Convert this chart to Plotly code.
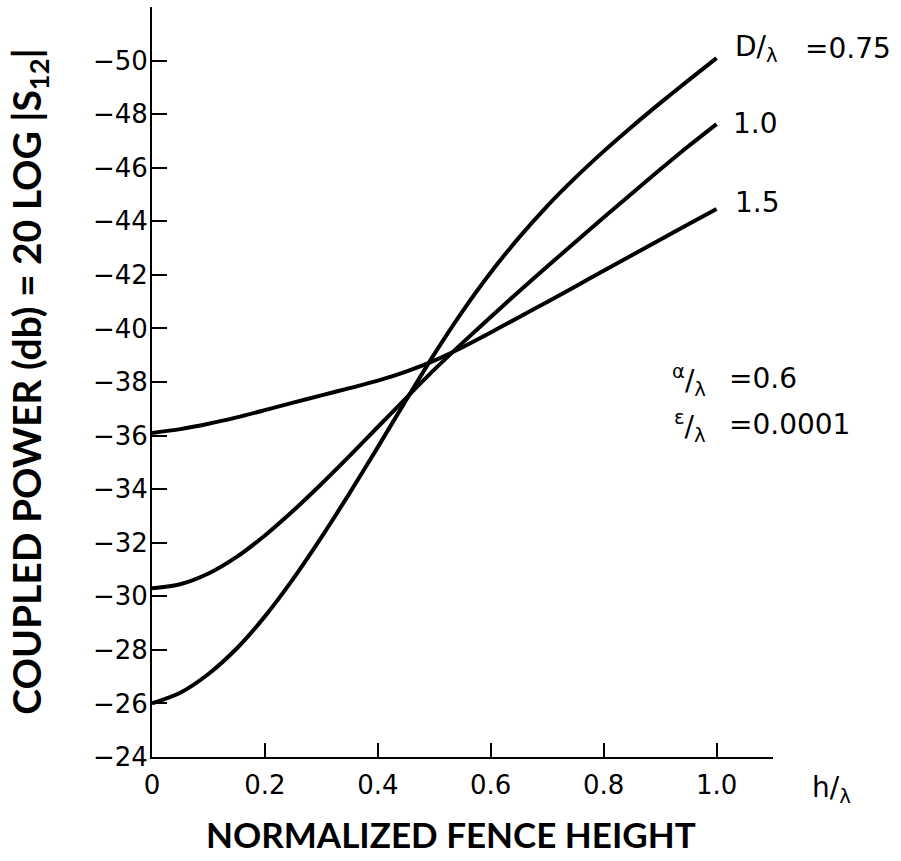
import plotly.graph_objects as go

# Normalized fence height h/lambda
h = [0.0, 0.05, 0.1, 0.15, 0.2, 0.25, 0.3, 0.35, 0.4, 0.45, 0.5,
     0.55, 0.6, 0.65, 0.7, 0.75, 0.8, 0.85, 0.9, 0.95, 1.0]

# Coupled power (dB) for each D/lambda
d075 = [-26.0, -26.4, -27.1, -28.05, -29.25, -30.65, -32.2, -33.85, -35.57, -37.32, -39.04,
        -40.64, -42.09, -43.39, -44.57, -45.63, -46.61, -47.53, -48.41, -49.26, -50.09]
d100 = [-30.3, -30.45, -30.85, -31.47, -32.27, -33.19, -34.19, -35.24, -36.32, -37.4, -38.46,
        -39.46, -40.43, -41.38, -42.31, -43.23, -44.14, -45.04, -45.93, -46.8, -47.63]
d150 = [-36.1, -36.24, -36.44, -36.68, -36.95, -37.23, -37.5, -37.77, -38.05, -38.39, -38.8,
        -39.3, -39.85, -40.42, -40.99, -41.57, -42.15, -42.73, -43.31, -43.89, -44.46]

x_ticks = [0, 0.2, 0.4, 0.6, 0.8, 1.0]
x_ticktext = ["0", "0.2", "0.4", "0.6", "0.8", "1.0"]
y_ticks = list(range(-50, -23, 2))
y_ticktext = ["\u2212%d" % abs(v) for v in y_ticks]

TFONT = "DejaVu Sans"
HFONT = "Lato"

fig = go.Figure()
for ys in (d075, d100, d150):
    fig.add_trace(go.Scatter(x=h, y=ys, mode="lines",
                             line=dict(color="black", width=4, shape="spline", smoothing=0.8),
                             showlegend=False, hoverinfo="skip"))

fig.update_layout(
    width=901, height=861,
    margin=dict(l=152, r=128, t=7, b=104),
    paper_bgcolor="white", plot_bgcolor="white",
    font=dict(family=TFONT, color="black", size=26),
)
fig.update_xaxes(range=[0, 1.1], tickvals=x_ticks, ticktext=x_ticktext,
                 showline=True, linecolor="black", linewidth=2,
                 ticks="inside", ticklen=14, tickwidth=1.5, tickcolor="black",
                 showgrid=False, zeroline=False, ticklabelstandoff=4,
                 tickfont=dict(size=26, family=TFONT))
fig.update_yaxes(range=[-24, -52], tickvals=y_ticks, ticktext=y_ticktext,
                 showline=True, linecolor="black", linewidth=2,
                 ticks="inside", ticklen=15, tickwidth=1.5, tickcolor="black",
                 showgrid=False, zeroline=False, ticklabelstandoff=-3,
                 tickfont=dict(size=26, family=TFONT))

PL, PW, PT, PH = 152, 621, 7, 750.5

def pxx(p):
    return (p - PL) / PW

def pxy(p):
    return 1 - (p - PT) / PH

ann = [
    dict(x=pxx(733), y=pxy(49), text="D/<sub>λ</sub>", xanchor="left"),
    dict(x=pxx(803), y=pxy(49), text="=0.75", xanchor="left"),
    dict(x=pxx(731), y=pxy(124), text="1.0", xanchor="left"),
    dict(x=pxx(733), y=pxy(203), text="1.5", xanchor="left"),
    dict(x=pxx(708), y=pxy(381), text="<sup>α</sup>/<sub>λ</sub>", xanchor="right"),
    dict(x=pxx(727), y=pxy(379), text="=0.6", xanchor="left"),
    dict(x=pxx(708), y=pxy(427), text="<sup>ε</sup>/<sub>λ</sub>", xanchor="right"),
    dict(x=pxx(727), y=pxy(425), text="=0.0001", xanchor="left"),
    dict(x=pxx(831), y=pxy(790), text="h/<sub>λ</sub>", xanchor="center"),
]
for a in ann:
    fig.add_annotation(xref="paper", yref="paper", showarrow=False, yanchor="middle",
                       font=dict(size=28, family=TFONT, color="black"), **a)

fig.add_annotation(xref="paper", yref="paper", x=pxx(451), y=pxy(835),
                   text="<b>NORMALIZED FENCE HEIGHT</b>", showarrow=False,
                   xanchor="center", yanchor="middle",
                   font=dict(size=35, family=HFONT, color="black"))
fig.add_annotation(xref="paper", yref="paper", x=pxx(29), y=pxy(382),
                   text="<b>COUPLED POWER (db) = 20 LOG |S<sub>12</sub>|</b>", showarrow=False,
                   textangle=-90, xanchor="center", yanchor="middle",
                   font=dict(size=39, family=HFONT, color="black"))

fig.write_html("out.html")
